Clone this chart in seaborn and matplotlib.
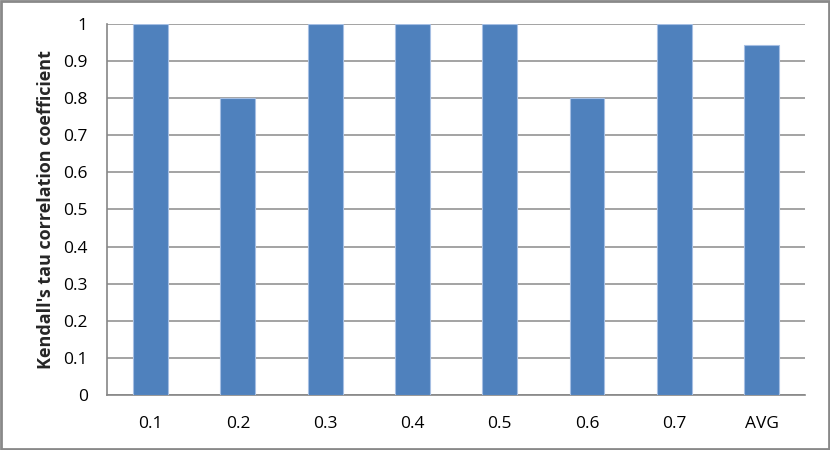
import matplotlib
matplotlib.use("Agg")
import matplotlib.pyplot as plt
import seaborn as sns
import pandas as pd
import numpy as np
from matplotlib.patches import Rectangle

categories = ["0.1", "0.2", "0.3", "0.4", "0.5", "0.6", "0.7", "AVG"]
values = [1.0, 0.8, 1.0, 1.0, 1.0, 0.8, 1.0, 0.943]

df = pd.DataFrame({"cat": categories, "val": values})

sns.set_theme(style="white")
plt.rcParams["font.family"] = ["Open Sans", "DejaVu Sans"]

fig = plt.figure(figsize=(8.3, 4.5), dpi=100)
ax = fig.add_axes([0.129, 0.122, 0.841, 0.825])

sns.barplot(data=df, x="cat", y="val", color="#4F81BD", saturation=1,
            width=0.4, edgecolor="#a6bfe3", linewidth=0.8, ax=ax, zorder=3)

ax.set_ylim(0, 1)
ax.set_xlim(-0.5, len(categories) - 0.5)
ax.set_yticks(np.arange(0, 1.01, 0.1))
ax.set_yticklabels(["0"] + [f"{v:.1f}" for v in np.arange(0.1, 0.95, 0.1)] + ["1"])
ax.yaxis.grid(True, color="#939393", linewidth=1.2, zorder=0)
ax.set_axisbelow(True)

ax.set_xticks(np.arange(-0.5, len(categories), 1.0), minor=True)
ax.tick_params(axis="x", which="major", length=0, pad=15, labelsize=12.5, colors="black")
ax.tick_params(axis="x", which="minor", length=5, width=1, color="#868686", direction="out")
ax.tick_params(axis="y", which="major", length=5, width=1, direction="out",
               labelsize=12.5, colors="black", pad=9)
for t in ax.get_yticklines():
    t.set_color("#868686")

for s in ["top", "right"]:
    ax.spines[s].set_visible(False)
for s in ["left", "bottom"]:
    ax.spines[s].set_color("#868686")
    ax.spines[s].set_linewidth(1.2)

ax.set_xlabel("")
ax.set_ylabel("Kendall's tau correlation coefficient", fontsize=13, fontweight="bold", labelpad=6)

fig.patches.append(Rectangle((0.0015, 0.002), 0.997, 0.995, transform=fig.transFigure,
                             fill=False, edgecolor="#898989", linewidth=2))

fig.savefig("out.png", dpi=100)
